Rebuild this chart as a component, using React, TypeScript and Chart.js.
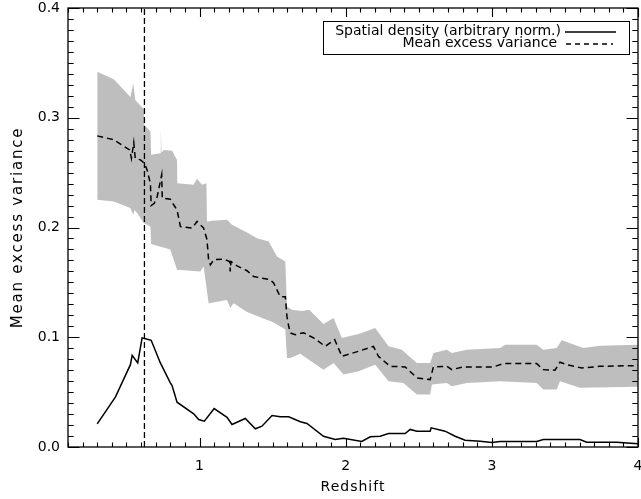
import React, { useEffect, useRef } from "react";
import { Chart, registerables } from "chart.js";

Chart.register(...registerables);

// ---- data ----
const densityZ = [0.30, 0.425, 0.527, 0.539, 0.577, 0.607, 0.63, 0.669, 0.732, 0.80, 0.812, 0.846, 0.96, 0.994, 1.033, 1.10, 1.188, 1.222, 1.313, 1.382, 1.427, 1.496, 1.552, 1.61, 1.69, 1.735, 1.848, 1.928, 1.985, 2.11, 2.168, 2.236, 2.293, 2.407, 2.441, 2.487, 2.578, 2.585, 2.68, 2.749, 2.817, 2.92, 3.0, 3.056, 3.307, 3.352, 3.603, 3.649, 3.854, 4.0];
const densityV = [0.021, 0.0457, 0.075, 0.0835, 0.0766, 0.0994, 0.0987, 0.0972, 0.0766, 0.0584, 0.056, 0.0408, 0.0302, 0.025, 0.0235, 0.035, 0.0271, 0.0205, 0.026, 0.0166, 0.019, 0.0287, 0.0275, 0.0275, 0.023, 0.0214, 0.0098, 0.0068, 0.008, 0.005, 0.0093, 0.0098, 0.0123, 0.0123, 0.016, 0.0144, 0.0144, 0.0175, 0.0144, 0.0098, 0.0062, 0.0053, 0.0041, 0.005, 0.005, 0.0068, 0.0068, 0.0044, 0.0044, 0.003];

const excessZ = [0.30, 0.413, 0.47, 0.522, 0.534, 0.55, 0.56, 0.596, 0.623, 0.641, 0.664, 0.669, 0.69, 0.71, 0.741, 0.745, 0.80, 0.823, 0.846, 0.869, 0.949, 0.983, 1.028, 1.051, 1.062, 1.074, 1.097, 1.165, 1.206, 1.21, 1.215, 1.257, 1.325, 1.37, 1.484, 1.507, 1.552, 1.587, 1.598, 1.61, 1.621, 1.655, 1.712, 1.78, 1.86, 1.925, 1.974, 2.088, 2.19, 2.224, 2.304, 2.407, 2.487, 2.578, 2.60, 2.692, 2.726, 2.805, 3.01, 3.079, 3.307, 3.352, 3.432, 3.466, 3.512, 3.615, 3.74, 4.0];
const excessV = [0.2835, 0.280, 0.275, 0.2707, 0.263, 0.2774, 0.263, 0.2616, 0.2586, 0.2525, 0.24, 0.22, 0.222, 0.228, 0.248, 0.2267, 0.2258, 0.2207, 0.216, 0.2009, 0.1995, 0.2055, 0.1995, 0.189, 0.1706, 0.166, 0.1706, 0.1712, 0.169, 0.16, 0.169, 0.165, 0.1606, 0.1554, 0.1524, 0.1494, 0.137, 0.137, 0.119, 0.11, 0.104, 0.1024, 0.104, 0.0994, 0.0917, 0.0978, 0.0826, 0.0872, 0.0917, 0.0826, 0.0735, 0.073, 0.063, 0.0614, 0.073, 0.0735, 0.0705, 0.073, 0.073, 0.076, 0.076, 0.0705, 0.07, 0.0772, 0.075, 0.072, 0.0735, 0.0742];

const bandUpperZ = [0.30, 0.413, 0.527, 0.546, 0.561, 0.618, 0.623, 0.664, 0.669, 0.73, 0.735, 0.74, 0.755, 0.812, 0.846, 0.848, 0.96, 0.983, 1.017, 1.047, 1.051, 1.085, 1.188, 1.222, 1.325, 1.393, 1.473, 1.53, 1.587, 1.598, 1.632, 1.70, 1.75, 1.848, 1.917, 1.974, 2.1, 2.202, 2.293, 2.384, 2.487, 2.578, 2.60, 2.692, 2.726, 2.829, 3.056, 3.09, 3.307, 3.352, 3.444, 3.478, 3.626, 3.74, 4.0];
const bandUpperV = [0.342, 0.335, 0.319, 0.331, 0.316, 0.308, 0.2935, 0.2874, 0.2662, 0.2677, 0.29, 0.268, 0.2707, 0.27, 0.2616, 0.2404, 0.2389, 0.2445, 0.2389, 0.2404, 0.2055, 0.2062, 0.207, 0.2025, 0.1955, 0.1903, 0.1873, 0.1736, 0.169, 0.128, 0.125, 0.124, 0.125, 0.112, 0.1176, 0.0994, 0.1035, 0.1085, 0.0917, 0.0887, 0.0766, 0.0766, 0.0857, 0.0887, 0.0857, 0.0887, 0.0902, 0.0932, 0.0932, 0.0887, 0.0902, 0.0972, 0.0902, 0.0923, 0.0932];

const bandLowerZ = [0.30, 0.413, 0.527, 0.546, 0.555, 0.573, 0.618, 0.664, 0.669, 0.80, 0.846, 1.005, 1.028, 1.062, 1.188, 1.21, 1.233, 1.325, 1.507, 1.587, 1.598, 1.621, 1.689, 1.78, 1.848, 1.917, 1.985, 2.088, 2.202, 2.293, 2.395, 2.487, 2.578, 2.59, 2.692, 2.726, 2.829, 3.056, 3.307, 3.352, 3.444, 3.466, 3.603, 4.0];
const bandLowerV = [0.2252, 0.2237, 0.2177, 0.2116, 0.216, 0.2131, 0.204, 0.201, 0.185, 0.18, 0.1615, 0.16, 0.1645, 0.131, 0.134, 0.1267, 0.131, 0.123, 0.1135, 0.107, 0.0812, 0.0812, 0.085, 0.0766, 0.0705, 0.0766, 0.066, 0.069, 0.075, 0.0599, 0.0584, 0.0478, 0.0478, 0.0569, 0.0584, 0.0553, 0.0584, 0.0599, 0.0584, 0.0523, 0.0523, 0.0599, 0.0539, 0.0548];

const markerZ = 0.623;

const xTickLabels = ["1", "2", "3", "4"];
const yTickLabels = ["0.0", "0.1", "0.2", "0.3", "0.4"];

const seriesLabels = ["Spatial density (arbitrary norm.)", "Mean excess variance"];

const FONT = "DejaVu Sans";

const zip = (xs: number[], ys: number[]) => xs.map((x, i) => ({ x, y: ys[i] }));

const labelFor = (labels: string[], v: number) => {
  const hit = labels.find((l) => Math.abs(Number(l) - v) < 1e-6);
  return hit === undefined ? "" : hit;
};

const frameTicksPlugin = {
  id: "frameTicks",
  afterDraw(chart: any) {
    const { ctx, chartArea } = chart;
    const { left, right, top, bottom } = chartArea;
    const xs = chart.scales.x;
    const ys = chart.scales.y;
    ctx.save();
    ctx.strokeStyle = "#000";
    ctx.lineWidth = 1.3;
    ctx.setLineDash([]);
    ctx.strokeRect(left, top, right - left, bottom - top);
    ctx.lineWidth = 1.1;
    ctx.beginPath();
    xs.ticks.forEach((t: any) => {
      const major = labelFor(xTickLabels, t.value) !== "";
      const len = major ? 9 : 4.5;
      const px = Math.round(xs.getPixelForValue(t.value)) + 0.5;
      ctx.moveTo(px, bottom);
      ctx.lineTo(px, bottom - len);
      ctx.moveTo(px, top);
      ctx.lineTo(px, top + len);
    });
    ys.ticks.forEach((t: any) => {
      const major = labelFor(yTickLabels, t.value) !== "";
      const len = major ? 11.5 : 5.7;
      const py = Math.round(ys.getPixelForValue(t.value)) + 0.5;
      ctx.moveTo(left, py);
      ctx.lineTo(left + len, py);
      ctx.moveTo(right, py);
      ctx.lineTo(right - len, py);
    });
    ctx.stroke();
    ctx.restore();
  },
};

const boxLegendPlugin = {
  id: "boxLegend",
  afterDraw(chart: any) {
    const { ctx, chartArea } = chart;
    const bx = chartArea.right - 315;
    const by = chartArea.top + 13;
    ctx.save();
    ctx.strokeStyle = "#000";
    ctx.lineWidth = 1;
    ctx.setLineDash([]);
    ctx.fillStyle = "#fff";
    ctx.fillRect(bx, by, 306, 33);
    ctx.strokeRect(bx + 0.5, by + 0.5, 306, 33);
    ctx.font = `14px "${FONT}"`;
    ctx.fillStyle = "#000";
    ctx.textAlign = "right";
    ctx.textBaseline = "middle";
    ctx.fillText(chart.data.datasets[3].label, bx + 238, by + 10.5);
    ctx.fillText(chart.data.datasets[2].label, bx + 234, by + 22.5);
    ctx.lineWidth = 1.5;
    ctx.beginPath();
    ctx.moveTo(bx + 242, by + 11);
    ctx.lineTo(bx + 293, by + 11);
    ctx.stroke();
    ctx.setLineDash([5, 4]);
    ctx.beginPath();
    ctx.moveTo(bx + 243, by + 23);
    ctx.lineTo(bx + 290, by + 23);
    ctx.stroke();
    ctx.restore();
  },
};

const titleSpacingPlugin = {
  id: "titleSpacing",
  beforeDraw(chart: any) {
    const wrap = (scale: any, sp: string) => {
      if (!scale || scale.__spaced) return;
      const orig = scale.drawTitle.bind(scale);
      scale.drawTitle = function () {
        const c = chart.ctx;
        c.save();
        (c as any).letterSpacing = sp;
        orig();
        c.restore();
      };
      scale.__spaced = true;
    };
    wrap(chart.scales.x, "1px");
    wrap(chart.scales.y, "1.8px");
  },
};

export default function App() {
  const ref = useRef<HTMLCanvasElement>(null);

  useEffect(() => {
    document.body.style.margin = "0";
    if (!ref.current) return;
    Chart.defaults.font.family = FONT;
    Chart.defaults.font.size = 14;
    Chart.defaults.color = "#000";

    const chart = new Chart(ref.current, {
      type: "line",
      data: {
        datasets: [
          {
            label: "band upper",
            data: zip(bandUpperZ, bandUpperV),
            borderColor: "rgba(0,0,0,0)",
            borderWidth: 0,
            backgroundColor: "rgb(190,190,190)",
            pointRadius: 0,
            fill: "+1",
            tension: 0,
          },
          {
            label: "band lower",
            data: zip(bandLowerZ, bandLowerV),
            borderColor: "rgba(0,0,0,0)",
            borderWidth: 0,
            pointRadius: 0,
            fill: false,
            tension: 0,
          },
          {
            label: seriesLabels[1],
            data: zip(excessZ, excessV),
            borderColor: "#000",
            borderWidth: 1.5,
            borderDash: [6, 4],
            pointRadius: 0,
            fill: false,
            tension: 0,
          },
          {
            label: seriesLabels[0],
            data: zip(densityZ, densityV),
            borderColor: "#000",
            borderWidth: 1.5,
            pointRadius: 0,
            fill: false,
            tension: 0,
          },
          {
            label: "marker",
            data: [
              { x: markerZ, y: 0 },
              { x: markerZ, y: 0.4 },
            ],
            borderColor: "#000",
            borderWidth: 1.3,
            borderDash: [6, 3],
            pointRadius: 0,
            fill: false,
          },
        ],
      },
      options: {
        animation: false,
        responsive: false,
        events: [],
        layout: { padding: { top: 8, right: 3, left: 0, bottom: 0 } },
        plugins: {
          legend: { display: false },
          tooltip: { enabled: false },
          filler: { drawTime: "beforeDatasetsDraw" },
        } as any,
        scales: {
          x: {
            type: "linear",
            min: 0.1,
            max: 4,
            grid: { display: false, drawTicks: false },
            border: { display: false },
            ticks: {
              stepSize: 0.1,
              autoSkip: false,
              maxRotation: 0,
              padding: 11,
              callback: (v: any) => labelFor(xTickLabels, Number(v)),
            },
            title: {
              display: true,
              text: "Redshift",
              padding: { top: 0, bottom: 3 },
            },
            afterFit: (s: any) => {
              s.height = 52;
              s.paddingLeft = 0;
              s.paddingRight = 0;
            },
          },
          y: {
            type: "linear",
            min: 0,
            max: 0.4,
            grid: { display: false, drawTicks: false },
            border: { display: false },
            ticks: {
              stepSize: 0.01,
              autoSkip: false,
              padding: 8,
              callback: (v: any) => labelFor(yTickLabels, Number(v)),
            },
            title: {
              display: true,
              text: "Mean excess variance",
              font: { size: 15 },
              padding: { top: 9, bottom: 0 },
            },
            afterFit: (s: any) => {
              s.width = 68;
              s.paddingTop = 0;
              s.paddingBottom = 0;
            },
          },
        },
      } as any,
      plugins: [titleSpacingPlugin, frameTicksPlugin, boxLegendPlugin],
    });
    return () => chart.destroy();
  }, []);

  return (
    <div style={{ width: 641, height: 499, position: "absolute", left: 0, top: 0 }}>
      <canvas ref={ref} width={641} height={499} style={{ display: "block" }} />
    </div>
  );
}
